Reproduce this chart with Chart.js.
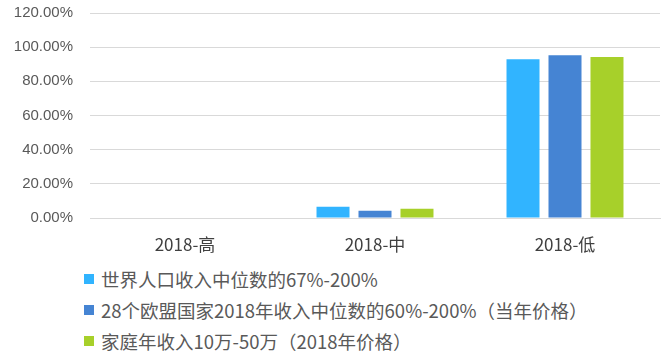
<!DOCTYPE html>
<html><head><meta charset="utf-8">
<script src="https://cdn.jsdelivr.net/npm/chart.js@4/dist/chart.umd.min.js"></script>
<style>
html,body{margin:0;padding:0;background:#fff;width:668px;height:356px;overflow:hidden;}
#wrap{position:absolute;left:0;top:0;width:668px;height:262px;}
#legend{position:absolute;left:84px;top:263px;font-family:"Noto Sans CJK SC","Noto Sans",sans-serif;font-size:18.5px;color:#595959;}
.li{height:31px;display:flex;align-items:center;white-space:nowrap;}
.sw{width:10px;height:10px;margin-right:7px;flex:none;}
</style></head><body>
<div id="wrap"><canvas id="c"></canvas></div>
<div id="legend"></div>
<script>
const categories = ["2018-高", "2018-中", "2018-低"];
const seriesNames = ["世界人口收入中位数的67%-200%", "28个欧盟国家2018年收入中位数的60%-200%（当年价格）", "家庭年收入10万-50万（2018年价格）"];
const worldValues = [0, 6.6, 93.0];
const euValues = [0, 4.3, 95.3];
const chinaValues = [0, 5.4, 94.2];
const colors = ["#31B4FF", "#4584D3", "#A7D02A"];
const yMax = 120, yStep = 20;

const datasets = [worldValues, euValues, chinaValues].map((d, i) => ({
  label: seriesNames[i], data: d, backgroundColor: colors[i],
  categoryPercentage: 0.663, barPercentage: 0.786
}));

new Chart(document.getElementById('c'), {
  type: 'bar',
  data: { labels: categories, datasets },
  options: {
    responsive: true, maintainAspectRatio: false, animation: false,
    layout: { padding: { left: 0, right: 8, top: 13, bottom: 0 } },
    plugins: { legend: { display: false }, tooltip: { enabled: false } },
    scales: {
      x: {
        grid: { display: false },
        border: { display: true, color: '#D9D9D9', width: 1 },
        ticks: { color: '#404040', font: { family: '"Noto Sans CJK SC","Noto Sans",sans-serif', size: 17 }, padding: 8 },
        afterFit(s) { s.height = 44; }
      },
      y: {
        min: 0, max: yMax,
        ticks: { stepSize: yStep, color: '#595959', padding: 17,
          font: { family: '"Liberation Sans",sans-serif', size: 15 },
          callback: v => v.toFixed(2) + '%' },
        grid: { color: '#D9D9D9', lineWidth: 1, drawTicks: false },
        border: { display: false },
        afterFit(s) { s.width = 90; s.paddingTop = 0; s.paddingBottom = 0; }
      }
    }
  }
});

const lg = document.getElementById('legend');
seriesNames.forEach((n, i) => {
  const d = document.createElement('div'); d.className = 'li';
  d.innerHTML = '<span class="sw" style="background:' + colors[i] + '"></span><span>' + n + '</span>';
  lg.appendChild(d);
});
</script>
</body></html>
